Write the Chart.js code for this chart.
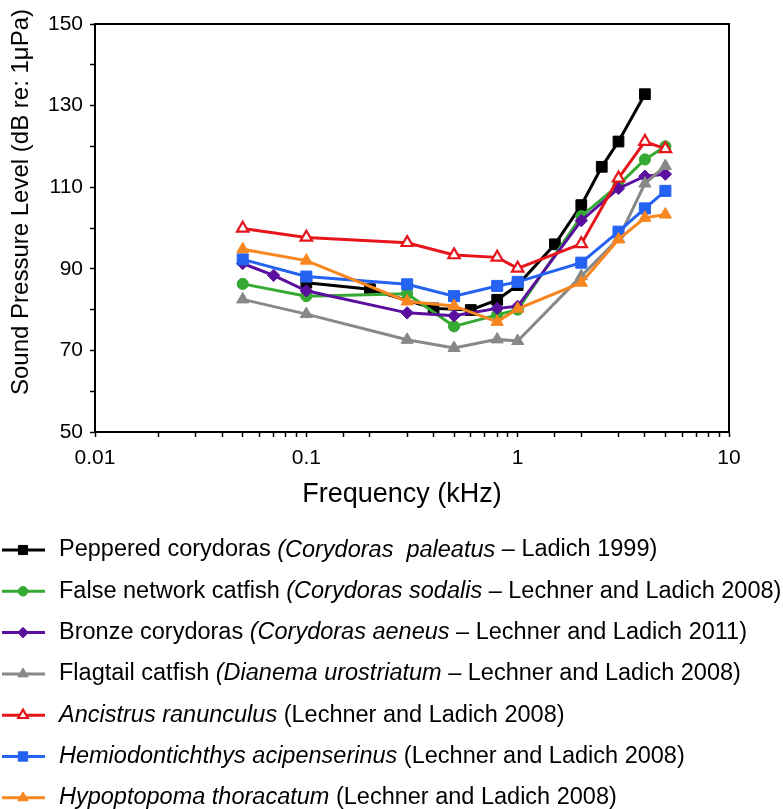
<!DOCTYPE html>
<html>
<head>
<meta charset="utf-8">
<script src="https://cdn.jsdelivr.net/npm/chart.js@4/dist/chart.umd.min.js"></script>
<style>
html, body { margin: 0; padding: 0; background: #fff; }
#wrap { width: 783px; height: 809px; }
</style>
</head>
<body>
<div id="wrap"><canvas id="chart"></canvas></div>
<script>
const FONT = '"Liberation Sans", Arial, Helvetica, sans-serif';

// frequencies (kHz)
const pepperedFreq = [0.1, 0.2, 0.4, 0.6, 0.8, 1, 1.5, 2, 2.5, 3, 4];
const commonFreq = [0.05, 0.1, 0.3, 0.5, 0.8, 1, 2, 3, 4, 5];
const bronzeFreq = [0.05, 0.07, 0.1, 0.3, 0.5, 0.8, 1, 2, 3, 4, 5];

// hearing thresholds (dB re 1 µPa)
const pepperedSPL = [86.6, 85.0, 80.3, 79.9, 82.4, 86.0, 96.0, 105.6, 115.0, 121.2, 132.8];
const falseNetworkSPL = [86.3, 83.3, 83.9, 75.9, 78.7, 80.0, 102.9, 110.5, 116.8, 120.0];
const bronzeSPL = [91.3, 88.4, 84.6, 79.2, 78.5, 80.3, 80.8, 101.8, 109.7, 112.7, 113.2];
const flagtailSPL = [82.5, 78.9, 72.6, 70.6, 72.7, 72.3, 88.2, 97.4, 110.9, 115.2];
const ancistrusSPL = [99.9, 97.7, 96.4, 93.4, 92.8, 90.1, 96.1, 112.2, 121.2, 119.4];
const hemiodontSPL = [92.3, 88.1, 86.2, 83.3, 85.8, 86.8, 91.5, 99.1, 104.8, 109.1];
const hypoptopomaSPL = [94.8, 92.0, 82.0, 80.9, 77.0, 80.2, 86.6, 97.2, 102.5, 103.3];

const yTicks = [50, 70, 90, 110, 130, 150];
const xTickLabels = ['0.01', '0.1', '1', '10'];
const xTitle = 'Frequency (kHz)';
const yTitle = 'Sound Pressure Level (dB re: 1μPa)';

// legend text: [text, italic]
const legendText = [
    [['Peppered corydoras ', false], ['(Corydoras  paleatus', true], [' – Ladich 1999)', false]],
    [['False network catfish ', false], ['(Corydoras sodalis', true], [' – Lechner and Ladich 2008)', false]],
    [['Bronze corydoras ', false], ['(Corydoras aeneus', true], [' – Lechner and Ladich 2011)', false]],
    [['Flagtail catfish ', false], ['(Dianema urostriatum', true], [' – Lechner and Ladich 2008)', false]],
    [['Ancistrus ranunculus', true], [' (Lechner and Ladich 2008)', false]],
    [['Hemiodontichthys acipenserinus', true], [' (Lechner and Ladich 2008)', false]],
    [['Hypoptopoma thoracatum', true], [' (Lechner and Ladich 2008)', false]]
];

function toPoints(freq, spl) {
    const pts = [];
    for (let i = 0; i < freq.length; i++) {
        pts.push({ x: freq[i], y: spl[i] });
    }
    return pts;
}

function makeSeries(freq, spl, color, style, radius, fill, order) {
    return {
        data: toPoints(freq, spl),
        borderColor: color,
        borderWidth: 3,
        pointStyle: style,
        pointRadius: radius,
        pointBackgroundColor: fill,
        pointBorderColor: color,
        pointBorderWidth: fill === '#ffffff' ? 2.2 : 1,
        tension: 0,
        order: order
    };
}

const datasets = [
    makeSeries(pepperedFreq, pepperedSPL, '#000000', 'rect', 7.6, '#000000', 7),
    makeSeries(commonFreq, falseNetworkSPL, '#35a932', 'circle', 5.6, '#35a932', 6),
    makeSeries(bronzeFreq, bronzeSPL, '#5a0f9f', 'rectRot', 6.2, '#5a0f9f', 5),
    makeSeries(commonFreq, flagtailSPL, '#888888', 'triangle', 7, '#888888', 4),
    makeSeries(commonFreq, ancistrusSPL, '#e8141c', 'triangle', 6.6, '#ffffff', 3),
    makeSeries(commonFreq, hemiodontSPL, '#2462f2', 'rect', 7.8, '#2462f2', 2),
    makeSeries(commonFreq, hypoptopomaSPL, '#f7861e', 'triangle', 7, '#f7861e', 1)
];

// box round the plot and the two axis titles
const boxPlugin = {
    id: 'box',
    afterDraw(chart) {
        const a = chart.chartArea;
        const ctx = chart.ctx;
        ctx.save();
        ctx.strokeStyle = '#000';
        ctx.lineWidth = 2;
        ctx.beginPath();
        ctx.moveTo(a.left, a.top);
        ctx.lineTo(a.right, a.top);
        ctx.lineTo(a.right, a.bottom);
        ctx.stroke();

        ctx.fillStyle = '#000';
        ctx.textAlign = 'center';
        ctx.textBaseline = 'alphabetic';
        ctx.font = '27px ' + FONT;
        ctx.fillText(xTitle, 402, 502);

        ctx.translate(21, 202);
        ctx.rotate(-Math.PI / 2);
        ctx.textBaseline = 'middle';
        ctx.font = '24px ' + FONT;
        ctx.fillText(yTitle, 0, 0);
        ctx.restore();
    }
};

// legend under the chart, line + marker + mixed italic text
const legendPlugin = {
    id: 'bottomLegend',
    afterDraw(chart) {
        const ctx = chart.ctx;
        const dsets = chart.data.datasets;
        for (let i = 0; i < dsets.length; i++) {
            const ds = dsets[i];
            const y = 550 + i * 41.3;
            ctx.save();
            ctx.strokeStyle = ds.borderColor;
            ctx.lineWidth = 3;
            ctx.beginPath();
            ctx.moveTo(2, y);
            ctx.lineTo(45, y);
            ctx.stroke();
            ctx.fillStyle = ds.pointBackgroundColor;
            ctx.strokeStyle = ds.pointBorderColor;
            ctx.lineWidth = ds.pointBorderWidth;
            Chart.helpers.drawPoint(ctx, {
                pointStyle: ds.pointStyle,
                radius: ds.pointRadius * 0.85,
                borderWidth: ds.pointBorderWidth,
                rotation: 0
            }, 23, y);
            let x = 59;
            ctx.fillStyle = '#000';
            ctx.textBaseline = 'middle';
            const parts = legendText[i];
            for (let j = 0; j < parts.length; j++) {
                ctx.font = (parts[j][1] ? 'italic ' : '') + '23.5px ' + FONT;
                ctx.fillText(parts[j][0], x, y);
                x += ctx.measureText(parts[j][0]).width;
            }
            ctx.restore();
        }
    }
};

function isDecade(v) {
    const l = Math.log10(v);
    return Math.abs(l - Math.round(l)) < 1e-6;
}

new Chart(document.getElementById('chart'), {
    type: 'line',
    data: { datasets: datasets },
    options: {
        responsive: true,
        maintainAspectRatio: false,
        animation: false,
        layout: { padding: { left: 0, top: 24, right: 54, bottom: 297 } },
        plugins: {
            legend: { display: false },
            tooltip: { enabled: false }
        },
        scales: {
            x: {
                type: 'logarithmic',
                min: 0.01,
                max: 10,
                border: { display: true, color: '#000', width: 2 },
                grid: { drawOnChartArea: false, drawTicks: true, tickLength: 5, color: '#000', tickWidth: 1.5 },
                ticks: {
                    autoSkip: false,
                    maxRotation: 0,
                    color: '#000',
                    padding: 9,
                    font: { family: FONT, size: 21 },
                    callback: function (v) {
                        if (!isDecade(v)) return '';
                        return xTickLabels[Math.round(Math.log10(v)) + 2];
                    }
                },
                afterFit: function (scale) { scale.height = 80; }
            },
            y: {
                type: 'linear',
                min: 50,
                max: 150,
                border: { display: true, color: '#000', width: 2 },
                grid: { drawOnChartArea: false, drawTicks: true, tickLength: 5, color: '#000', tickWidth: 1.5 },
                ticks: {
                    stepSize: 10,
                    color: '#000',
                    padding: 7,
                    font: { family: FONT, size: 21 },
                    callback: function (v) {
                        return yTicks.indexOf(v) >= 0 ? String(v) : '';
                    }
                },
                afterFit: function (scale) { scale.width = 95; }
            }
        }
    },
    plugins: [boxPlugin, legendPlugin]
});
</script>
</body>
</html>
